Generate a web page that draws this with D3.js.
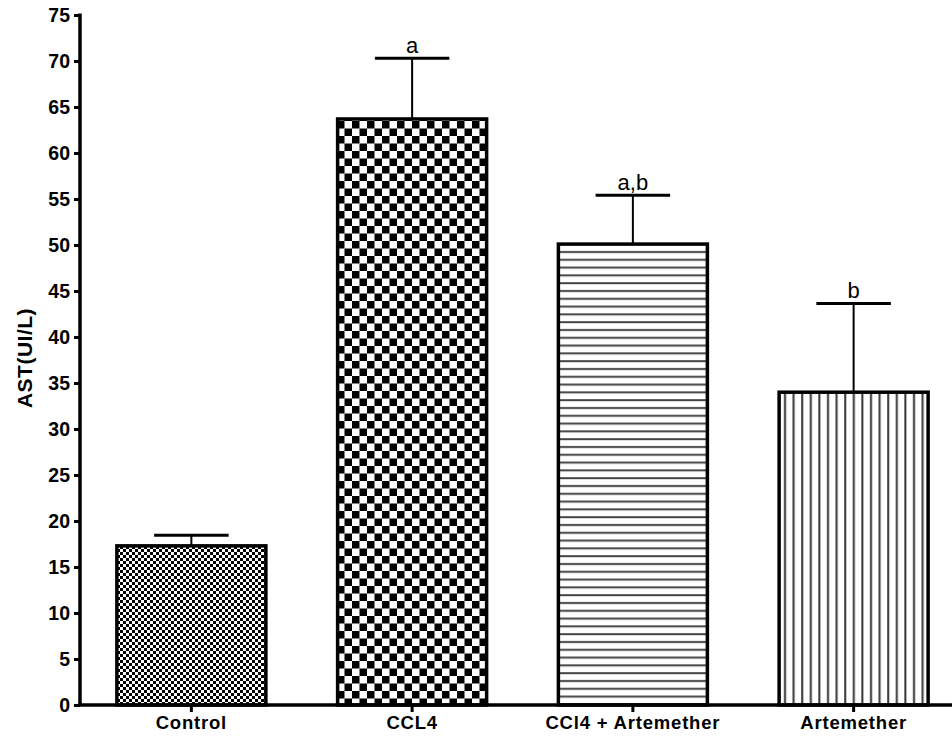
<!DOCTYPE html>
<html>
<head>
<meta charset="utf-8">
<script src="https://cdn.jsdelivr.net/npm/d3@7/dist/d3.min.js"></script>
<style>
  html, body { margin: 0; padding: 0; background: #fff; }
  svg { display: block; }
</style>
</head>
<body>
<script>
const categories = ["Control", "CCL4", "CCl4 + Artemether", "Artemether"];
const means = [17.3, 63.7, 50.1, 34.0];
const upperErrors = [18.45, 70.3, 55.4, 43.65];
const letters = ["", "a", "a,b", "b"];
const patterns = ["checkSmall", "checkLarge", "hlines", "vlines"];
const yTicks = [0, 5, 10, 15, 20, 25, 30, 35, 40, 45, 50, 55, 60, 65, 70, 75];

const W = 952, H = 738;
const FONT = "Liberation Sans, Arial, sans-serif";
const svg = d3.select("body").append("svg").attr("width", W).attr("height", H);

const defs = svg.append("defs");
let p = defs.append("pattern").attr("id", "checkSmall").attr("patternUnits", "userSpaceOnUse")
  .attr("width", 6).attr("height", 6);
p.append("rect").attr("width", 6).attr("height", 6).attr("fill", "#fff");
p.append("rect").attr("x", 0).attr("y", 0).attr("width", 3).attr("height", 3).attr("fill", "#000");
p.append("rect").attr("x", 3).attr("y", 3).attr("width", 3).attr("height", 3).attr("fill", "#000");
p = defs.append("pattern").attr("id", "checkLarge").attr("patternUnits", "userSpaceOnUse")
  .attr("width", 15).attr("height", 15).attr("x", 337).attr("y", 121);
p.append("rect").attr("width", 15).attr("height", 15).attr("fill", "#fff");
p.append("rect").attr("x", 0).attr("y", 0).attr("width", 7.5).attr("height", 7.5).attr("fill", "#000");
p.append("rect").attr("x", 7.5).attr("y", 7.5).attr("width", 7.5).attr("height", 7.5).attr("fill", "#000");
p = defs.append("pattern").attr("id", "hlines").attr("patternUnits", "userSpaceOnUse")
  .attr("width", 10).attr("height", 7.8).attr("y", 246);
p.append("rect").attr("width", 10).attr("height", 7.8).attr("fill", "#fff");
p.append("rect").attr("x", 0).attr("y", 5).attr("width", 10).attr("height", 2).attr("fill", "#444");
p = defs.append("pattern").attr("id", "vlines").attr("patternUnits", "userSpaceOnUse")
  .attr("width", 8.6).attr("height", 10).attr("x", 779);
p.append("rect").attr("width", 8.6).attr("height", 10).attr("fill", "#fff");
p.append("rect").attr("x", 5).attr("y", 0).attr("width", 2).attr("height", 10).attr("fill", "#333");

const y = d3.scaleLinear().domain([0, 75]).range([705, 15]);
const x = d3.scaleBand().domain(categories).range([81, 964]).paddingInner(0.325).paddingOuter(0.1625);

const g = svg.append("g");
categories.forEach((c, i) => {
  const bx = x(c), bw = x.bandwidth();
  const cx = bx + bw / 2;
  g.append("line").attr("x1", cx).attr("x2", cx).attr("y1", y(means[i])).attr("y2", y(upperErrors[i]))
    .attr("stroke", "#000").attr("stroke-width", 2);
  g.append("line").attr("x1", cx - bw / 4).attr("x2", cx + bw / 4)
    .attr("y1", y(upperErrors[i])).attr("y2", y(upperErrors[i]))
    .attr("stroke", "#000").attr("stroke-width", 3);
  g.append("rect").attr("x", bx).attr("y", y(means[i])).attr("width", bw).attr("height", y(0) - y(means[i]))
    .attr("fill", "url(#" + patterns[i] + ")").attr("stroke", "#000").attr("stroke-width", 3.5);
  if (letters[i]) {
    g.append("text").attr("x", cx).attr("y", y(upperErrors[i]) - 5)
      .attr("text-anchor", "middle").attr("font-family", FONT)
      .attr("font-size", 22).attr("fill", "#000").text(letters[i]);
  }
});

const ya = svg.append("g").attr("transform", "translate(80,0)")
  .call(d3.axisLeft(y).tickValues(yTicks).tickSize(6).tickSizeOuter(0).tickPadding(4));
ya.select(".domain").attr("stroke-width", 3.5).attr("d", `M0,${y(75) - 1.5}V${y(0)}`);
ya.selectAll(".tick line").attr("stroke-width", 3);
ya.selectAll(".tick text").attr("font-family", FONT)
  .attr("font-weight", "bold").attr("font-size", 19.5).attr("fill", "#000");

const xa = svg.append("g").attr("transform", `translate(0,${y(0)})`)
  .call(d3.axisBottom(x).tickSize(7).tickSizeOuter(0).tickPadding(4));
xa.select(".domain").attr("stroke-width", 3.5).attr("d", `M78,0H${W}`);
xa.selectAll(".tick line").attr("stroke-width", 3);
xa.selectAll(".tick text").attr("font-family", FONT)
  .attr("font-weight", "bold").attr("font-size", 18.5).attr("letter-spacing", 0.8).attr("fill", "#000");

svg.append("text").attr("transform", "translate(32,358) rotate(-90)")
  .attr("text-anchor", "middle").attr("font-family", FONT)
  .attr("font-weight", "bold").attr("font-size", 21).attr("letter-spacing", 0.5).attr("fill", "#000")
  .text("AST(UI/L)");
</script>
</body>
</html>
